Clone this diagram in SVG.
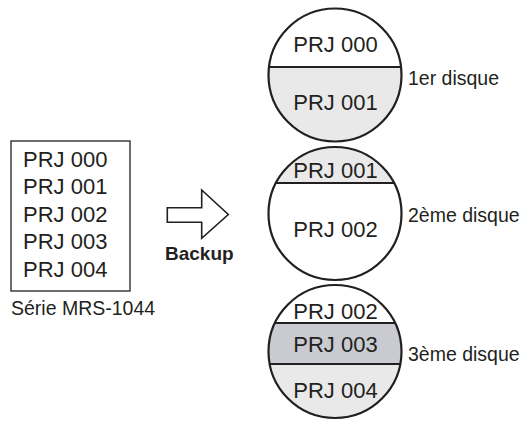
<svg xmlns="http://www.w3.org/2000/svg" width="526" height="424" viewBox="0 0 526 424">
<style>
text{font-family:"Liberation Sans",Arial,Helvetica,sans-serif;fill:#231f20}
.prj{font-size:22px}
.lbl{font-size:19.5px}
.mid{text-anchor:middle}
.disk{fill:none;stroke:#231f20;stroke-width:2.2}
.div{stroke:#231f20;stroke-width:2.2}
.lg{fill:#e9e9e9}
.dg{fill:#c9cbd0}
</style>
<defs>
<clipPath id="c1"><circle cx="335" cy="75" r="66.5"/></clipPath>
<clipPath id="c2"><circle cx="335" cy="213.5" r="66.5"/></clipPath>
<clipPath id="c3"><circle cx="335" cy="351.5" r="66.5"/></clipPath>
</defs>
<rect width="526" height="424" fill="#fff"/>

<g id="source">
<rect x="11" y="141" width="119" height="150" fill="none" stroke="#231f20" stroke-width="1.3"/>
<text class="prj" x="23" y="166.5">PRJ 000</text>
<text class="prj" x="23" y="194">PRJ 001</text>
<text class="prj" x="23" y="221.5">PRJ 002</text>
<text class="prj" x="23" y="249">PRJ 003</text>
<text class="prj" x="23" y="276.5">PRJ 004</text>
<text class="lbl" x="11" y="315">Série MRS-1044</text>
</g>

<g id="connectors">
<polygon points="167.3,207.7 201.7,207.7 201.7,190 228.3,214.5 201.7,238.3 201.7,222.3 167.3,222.3" fill="#fff" stroke="#231f20" stroke-width="1.6" stroke-linejoin="miter"/>
<text x="165" y="260" style="font-size:19px;font-weight:bold">Backup</text>
</g>

<g id="disk1">
<g clip-path="url(#c1)">
<rect class="lg" x="260" y="67" width="150" height="80"/>
</g>
<line class="div" x1="269" y1="67" x2="401" y2="67"/>
<circle class="disk" cx="335" cy="75" r="66.5"/>
<text class="prj mid" x="335.5" y="52">PRJ 000</text>
<text class="prj mid" x="335.5" y="110">PRJ 001</text>
<text class="lbl" x="408" y="85">1er disque</text>
</g>

<g id="disk2">
<g clip-path="url(#c2)">
<rect class="lg" x="260" y="140" width="150" height="43"/>
</g>
<line class="div" x1="275.9" y1="183" x2="394.1" y2="183"/>
<circle class="disk" cx="335" cy="213.5" r="66.5"/>
<text class="prj mid" x="335.5" y="178">PRJ 001</text>
<text class="prj mid" x="335.5" y="237">PRJ 002</text>
<text class="lbl" x="408" y="222">2ème disque</text>
</g>

<g id="disk3">
<g clip-path="url(#c3)">
<rect class="dg" x="260" y="323" width="150" height="41"/>
<rect class="lg" x="260" y="364" width="150" height="60"/>
</g>
<line class="div" x1="274.9" y1="323" x2="395.1" y2="323"/>
<line class="div" x1="269.7" y1="364" x2="400.3" y2="364"/>
<circle class="disk" cx="335" cy="351.5" r="66.5"/>
<text class="prj mid" x="335.5" y="318.5">PRJ 002</text>
<text class="prj mid" x="335.5" y="352">PRJ 003</text>
<text class="prj mid" x="335.5" y="398">PRJ 004</text>
<text class="lbl" x="408" y="361">3ème disque</text>
</g>
</svg>
